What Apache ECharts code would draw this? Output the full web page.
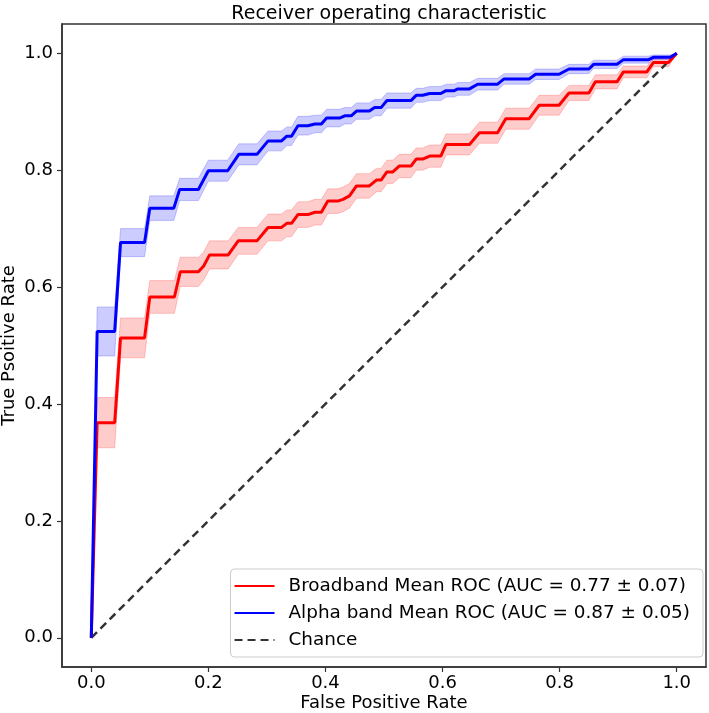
<!DOCTYPE html>
<html>
<head>
<meta charset="utf-8">
<script src="https://cdn.jsdelivr.net/npm/echarts@6/dist/echarts.min.js"></script>
<style>html,body{margin:0;padding:0;background:#fff}#c{width:709px;height:713px}</style>
</head>
<body>
<div id="c"></div>
<script>
// ---- data ----
const ticks = [0, 0.2, 0.4, 0.6, 0.8, 1.0];
const chanceX = [0, 1];
const chanceY = [0, 1];

const broadX  = [0, 0.010,0.040, 0.050,0.091, 0.100,0.142, 0.152,0.183, 0.192, 0.202,0.234, 0.251,0.283, 0.302,0.325, 0.334,0.342, 0.353,0.370, 0.382,0.393, 0.404,0.421, 0.430, 0.441, 0.453,0.475, 0.487,0.495, 0.505,0.515, 0.526,0.546, 0.555,0.566, 0.578,0.597, 0.606,0.646, 0.663,0.694, 0.708,0.748, 0.765,0.799, 0.816,0.850, 0.861,0.898, 0.909,0.949, 0.960,0.986, 1];
const broadY  = [0, 0.368,0.368, 0.513,0.513, 0.583,0.583, 0.626,0.626, 0.636, 0.655,0.655, 0.679,0.679, 0.702,0.702, 0.709,0.709, 0.724,0.724, 0.728,0.728, 0.747,0.747, 0.750, 0.756, 0.773,0.773, 0.783,0.783, 0.797,0.797, 0.807,0.807, 0.819,0.819, 0.824,0.824, 0.844,0.844, 0.864,0.864, 0.888,0.888, 0.911,0.911, 0.932,0.932, 0.951,0.951, 0.968,0.968, 0.984,0.984, 1];
const broadSd = [0, 0.043,0.043, 0.034,0.034, 0.028,0.028, 0.025,0.025, 0.024, 0.024,0.024, 0.023,0.023, 0.023,0.023, 0.023,0.023, 0.022,0.022, 0.022,0.022, 0.021,0.021, 0.021, 0.021, 0.021,0.021, 0.020,0.020, 0.020,0.020, 0.020,0.020, 0.019,0.019, 0.019,0.019, 0.018,0.018, 0.018,0.018, 0.018,0.018, 0.017,0.017, 0.013,0.013, 0.012,0.012, 0.010,0.010, 0.007,0.007, 0];

const alphaX  = [0, 0.010,0.040, 0.050,0.091, 0.100,0.141, 0.151,0.183, 0.200,0.233, 0.252,0.283, 0.302,0.325, 0.334,0.342, 0.353,0.370, 0.382,0.393, 0.402,0.424, 0.433,0.444, 0.453,0.475, 0.484,0.495, 0.505,0.546, 0.555,0.566, 0.578,0.597, 0.606,0.620, 0.626,0.646, 0.660,0.694, 0.705,0.748, 0.759,0.799, 0.816,0.850, 0.858,0.898, 0.909,0.952, 0.960,0.989, 1];
const alphaY  = [0, 0.524,0.524, 0.676,0.676, 0.735,0.735, 0.767,0.767, 0.799,0.799, 0.827,0.827, 0.850,0.850, 0.858,0.858, 0.876,0.876, 0.879,0.879, 0.889,0.889, 0.893,0.893, 0.901,0.901, 0.907,0.907, 0.919,0.919, 0.928,0.928, 0.931,0.931, 0.936,0.936, 0.939,0.939, 0.947,0.947, 0.956,0.956, 0.964,0.964, 0.973,0.973, 0.981,0.981, 0.989,0.989, 0.993,0.993, 1];
const alphaSd = [0, 0.042,0.042, 0.024,0.024, 0.021,0.021, 0.019,0.019, 0.018,0.018, 0.018,0.018, 0.017,0.017, 0.016,0.016, 0.016,0.016, 0.015,0.015, 0.015,0.015, 0.014,0.014, 0.014,0.014, 0.014,0.014, 0.013,0.013, 0.012,0.012, 0.012,0.012, 0.011,0.011, 0.011,0.011, 0.010,0.010, 0.009,0.009, 0.009,0.009, 0.008,0.008, 0.007,0.007, 0.006,0.006, 0.004,0.004, 0];

const broadName = 'Broadband Mean ROC (AUC = 0.77 ± 0.07)';
const alphaName = 'Alpha band Mean ROC (AUC = 0.87 ± 0.05)';
const chanceName = 'Chance';

// ---- build ----
const FONT = 'DejaVu Sans';
function pairs(xs, ys) { return xs.map((x, i) => [x, ys[i]]); }
function bandSeries(xs, ys, sd, fill) {
  const data = xs.map((x, i) => [x, Math.min(1, ys[i] + sd[i]), Math.max(0, ys[i] - sd[i])]);
  return {
    type: 'custom', silent: true, z: 1,
    data: data,
    encode: { x: 0, y: [1, 2] },
    renderItem: function (params, api) {
      if (params.dataIndex !== 0) return null;
      const pts = [];
      for (let i = 0; i < data.length; i++) pts.push(api.coord([data[i][0], data[i][1]]));
      for (let i = data.length - 1; i >= 0; i--) pts.push(api.coord([data[i][0], data[i][2]]));
      return { type: 'polygon', shape: { points: pts }, style: { fill: fill, stroke: fill, lineWidth: 1 } };
    }
  };
}

const chart = echarts.init(document.getElementById('c'), null, { renderer: 'canvas' });
const axisCommon = {
  type: 'value', min: -0.05, max: 1.05,
  nameLocation: 'middle',
  nameMoveOverlap: false,
  nameTextStyle: { fontFamily: FONT, fontSize: 18, color: '#000' },
  axisLine: { show: true, onZero: false, lineStyle: { color: '#333', width: 1.5 } },
  axisTick: { show: true, inside: false, length: 5, customValues: ticks, lineStyle: { color: '#333', width: 1.2 } },
  axisLabel: { customValues: ticks, fontFamily: FONT, fontSize: 18, color: '#000', formatter: v => v.toFixed(1) },
  splitLine: { show: false }
};
chart.setOption({
  animation: false,
  backgroundColor: '#fff',
  title: {
    text: 'Receiver operating characteristic', left: 384, top: 0, textAlign: 'center',
    textStyle: { fontFamily: FONT, fontSize: 19, fontWeight: 'normal', color: '#000' }
  },
  grid: { left: 62, right: 3, top: 24, bottom: 46, show: true, borderColor: '#333', borderWidth: 1.5, containLabel: false, outerBoundsMode: 'none' },
  xAxis: Object.assign({}, axisCommon, { name: 'False Positive Rate', nameGap: 27, axisLabel: Object.assign({}, axisCommon.axisLabel, { margin: 7 }) }),
  yAxis: Object.assign({}, axisCommon, { name: 'True Psoitive Rate', nameGap: 44, axisLabel: Object.assign({}, axisCommon.axisLabel, { margin: 9 }) }),
  legend: {
    data: [broadName, alphaName, chanceName],
    orient: 'vertical', right: 6, bottom: 56,
    padding: [8, 13, 8, 3], itemGap: 9, itemWidth: 40, itemHeight: 14,
    itemStyle: { opacity: 0 },
    borderColor: '#ccc', borderWidth: 1, borderRadius: 4, backgroundColor: 'rgba(255,255,255,0.8)',
    textStyle: { fontFamily: FONT, fontSize: 18.4, color: '#000', padding: [0, 0, 0, 9] },
    selectedMode: false
  },
  series: [
    bandSeries(broadX, broadY, broadSd, 'rgba(255,0,0,0.2)'),
    bandSeries(alphaX, alphaY, alphaSd, 'rgba(0,0,255,0.2)'),
    { type: 'line', name: broadName, data: pairs(broadX, broadY), symbol: 'none', z: 3,
      lineStyle: { color: '#ff0000', width: 3 }, itemStyle: { color: '#ff0000' } },
    { type: 'line', name: alphaName, data: pairs(alphaX, alphaY), symbol: 'none', z: 4,
      lineStyle: { color: '#0000ff', width: 3 }, itemStyle: { color: '#0000ff' } },
    { type: 'line', name: chanceName, data: pairs(chanceX, chanceY), symbol: 'none', z: 2,
      lineStyle: { color: '#333333', width: 2.5, type: [8, 5] }, itemStyle: { color: '#333333' } }
  ]
});
</script>
</body>
</html>
